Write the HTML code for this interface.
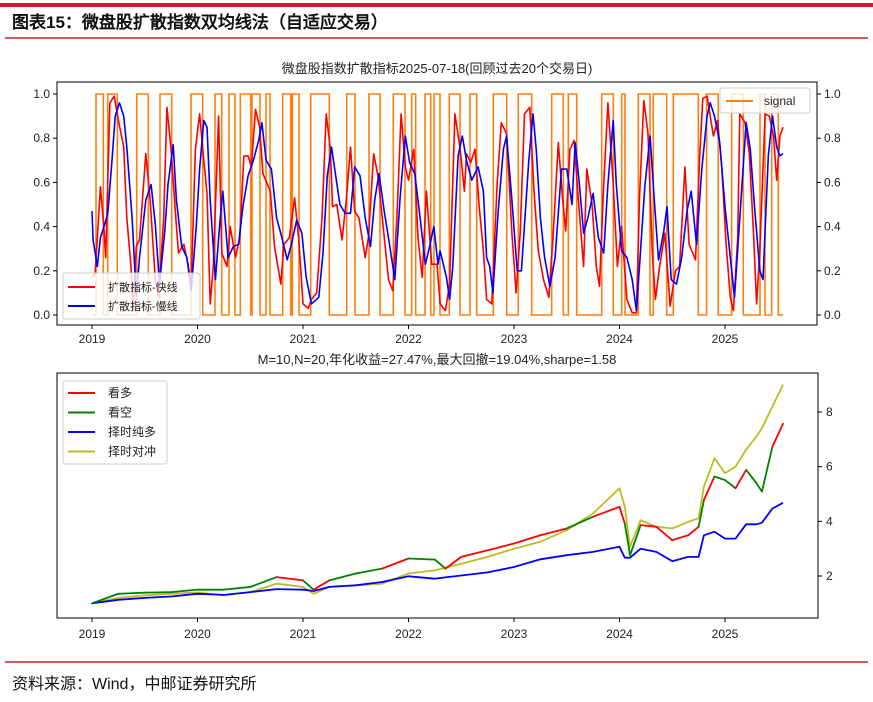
<!DOCTYPE html>
<html><head><meta charset="utf-8">
<style>
body{margin:0;background:#fff;width:873px;height:697px;overflow:hidden;font-family:"Liberation Sans","WenQuanYi Zen Hei",sans-serif;}
svg text{font-family:"Liberation Sans","WenQuanYi Zen Hei",sans-serif;}
</style></head>
<body>
<svg id="root" width="873" height="697" xmlns="http://www.w3.org/2000/svg">
<rect x="0" y="3" width="873" height="4" fill="#c8202c"/>
<text x="12" y="28" font-size="17" font-weight="bold" fill="#111">图表15：微盘股扩散指数双均线法（自适应交易）</text>
<line x1="5" y1="38" x2="868" y2="38" stroke="#c8202c" stroke-width="1.5"/>
<line x1="5" y1="662" x2="868" y2="662" stroke="#c8202c" stroke-width="1.5"/>
<text x="12" y="689" font-size="16" fill="#111">资料来源：Wind，中邮证券研究所</text>
<text x="437" y="73" font-size="13" text-anchor="middle" fill="#222">微盘股指数扩散指标2025-07-18(回顾过去20个交易日)</text>
<text x="437" y="364" font-size="13" text-anchor="middle" fill="#222">M=10,N=20,年化收益=27.47%,最大回撤=19.04%,sharpe=1.58</text>
<g id="topChart"></g>
<g id="botChart"></g>
</svg>
<script>
// ---- data ----
const yearTicks = [2019,2020,2021,2022,2023,2024,2025];
const signalTransitions = [0.038,0.107,0.149,0.240,0.424,0.534,0.645,0.755,0.938,1.049,1.166,1.229,1.299,1.355,1.406,1.504,1.517,1.592,1.649,1.687,1.808,1.883,1.899,1.962,2.073,2.249,2.414,2.493,2.626,2.730,2.856,2.967,3.030,3.068,3.156,3.210,3.242,3.299,3.387,3.488,3.583,3.646,3.804,3.931,4.041,4.168,4.357,4.467,4.515,4.594,4.831,4.941,5.021,5.052,5.178,5.289,5.320,5.447,5.510,5.747,5.826,5.936,6.063,6.173,6.332,6.379,6.443,6.505];
const signalEnd = 6.55;
const fastT = [0.00,0.03,0.08,0.11,0.13,0.17,0.21,0.25,0.30,0.33,0.37,0.39,0.42,0.45,0.51,0.55,0.60,0.63,0.68,0.71,0.75,0.79,0.82,0.87,0.91,0.94,0.98,1.02,1.06,1.09,1.12,1.15,1.20,1.23,1.28,1.31,1.36,1.40,1.44,1.48,1.51,1.55,1.59,1.62,1.69,1.73,1.79,1.82,1.87,1.92,1.96,2.00,2.05,2.08,2.13,2.18,2.22,2.26,2.28,2.32,2.37,2.41,2.45,2.49,2.53,2.59,2.62,2.67,2.71,2.76,2.81,2.85,2.89,2.93,2.97,3.00,3.05,3.09,3.13,3.17,3.22,3.27,
3.30,3.35,3.39,3.44,3.49,3.53,3.55,3.59,3.63,3.67,3.71,3.74,3.79,3.84,3.88,3.93,3.98,4.02,4.06,4.10,4.15,4.19,4.23,4.28,4.33,4.37,4.42,4.46,4.49,4.53,4.57,4.61,4.66,4.69,4.74,4.78,4.81,4.85,4.89,4.94,4.98,5.02,5.07,5.12,5.16,5.19,5.23,5.27,5.31,5.34,5.38,5.43,5.48,5.53,5.57,5.62,5.66,5.72,5.76,5.79,5.83,5.86,5.89,5.93,5.97,6.01,6.05,6.08,6.12,6.14,6.19,6.23,6.27,6.30,6.33,6.38,6.42,6.46,6.49,6.52,6.55];
const fastV = [0.17,0.19,0.58,0.41,0.26,0.96,0.99,0.88,0.76,0.44,0.22,0.02,0.31,0.34,0.73,0.53,0.16,0.08,0.44,0.94,0.75,0.47,0.28,0.32,0.23,0.14,0.75,0.91,0.70,0.55,0.05,0.22,0.90,0.28,0.22,0.40,0.26,0.35,0.72,0.72,0.67,0.93,0.85,0.64,0.56,0.31,0.14,0.32,0.35,0.53,0.34,0.05,0.03,0.07,0.10,0.44,0.91,0.75,0.49,0.50,0.34,0.52,0.76,0.47,0.44,0.26,0.35,0.73,0.63,0.40,0.16,0.11,0.44,0.91,0.67,0.61,0.75,0.35,0.17,0.56,0.23,0.23,
0.05,0.02,0.14,0.91,0.75,0.56,0.73,0.69,0.75,0.49,0.29,0.07,0.05,0.59,0.87,0.82,0.37,0.10,0.38,0.91,0.94,0.56,0.29,0.16,0.08,0.35,0.78,0.53,0.38,0.75,0.79,0.52,0.22,0.66,0.50,0.22,0.13,0.59,0.96,0.59,0.22,0.40,0.07,0.01,0.01,0.53,0.97,0.82,0.29,0.07,0.22,0.37,0.04,0.20,0.22,0.67,0.32,0.25,0.72,0.98,0.99,0.90,0.81,0.88,0.67,0.32,0.08,0.02,0.35,0.91,0.87,0.73,0.37,0.05,0.29,0.91,0.90,0.81,0.61,0.81,0.85];
const slowT = [0.00,0.01,0.05,0.08,0.12,0.15,0.19,0.22,0.26,0.30,0.33,0.38,0.42,0.45,0.51,0.56,0.60,0.64,0.69,0.72,0.77,0.80,0.85,0.90,0.94,0.99,1.02,1.06,1.09,1.12,1.17,1.21,1.24,1.29,1.34,1.39,1.43,1.48,1.53,1.58,1.61,1.65,1.70,1.75,1.80,1.85,1.89,1.94,1.99,2.03,2.08,2.15,2.19,2.23,2.27,2.31,2.35,2.40,2.45,2.49,2.54,2.59,2.64,2.68,2.72,2.77,2.82,2.87,2.92,2.97,3.01,3.06,3.11,3.16,3.20,3.24,3.28,
3.30,3.33,3.36,3.39,3.42,3.47,3.51,3.55,3.60,3.66,3.71,3.74,3.77,3.80,3.85,3.90,3.93,3.98,4.03,4.07,4.14,4.18,4.21,4.25,4.29,4.34,4.39,4.45,4.50,4.55,4.58,4.62,4.66,4.70,4.75,4.80,4.85,4.89,4.94,4.97,5.02,5.07,5.12,5.16,5.19,5.24,5.29,5.33,5.37,5.42,5.45,5.49,5.54,5.59,5.64,5.68,5.73,5.78,5.83,5.86,5.90,5.95,6.00,6.05,6.09,6.14,6.20,6.24,6.28,6.33,6.36,6.41,6.45,6.49,6.52,6.55];
const slowV = [0.47,0.34,0.22,0.35,0.41,0.46,0.70,0.90,0.96,0.90,0.76,0.44,0.08,0.26,0.52,0.59,0.41,0.14,0.38,0.59,0.77,0.52,0.31,0.26,0.11,0.41,0.66,0.88,0.85,0.52,0.16,0.41,0.56,0.26,0.31,0.32,0.49,0.63,0.70,0.79,0.87,0.70,0.66,0.44,0.35,0.25,0.32,0.43,0.37,0.17,0.05,0.08,0.28,0.63,0.76,0.63,0.50,0.46,0.46,0.67,0.63,0.44,0.31,0.52,0.64,0.47,0.32,0.16,0.53,0.81,0.69,0.64,0.44,0.23,0.31,0.40,0.23,
0.29,0.23,0.17,0.07,0.22,0.72,0.81,0.70,0.61,0.67,0.56,0.26,0.22,0.10,0.47,0.75,0.81,0.52,0.20,0.20,0.70,0.91,0.75,0.44,0.26,0.13,0.26,0.66,0.66,0.50,0.78,0.59,0.37,0.44,0.55,0.35,0.28,0.59,0.88,0.59,0.29,0.26,0.16,0.02,0.22,0.58,0.81,0.52,0.25,0.38,0.49,0.16,0.14,0.26,0.47,0.56,0.32,0.66,0.90,0.96,0.90,0.78,0.49,0.26,0.08,0.44,0.87,0.75,0.49,0.20,0.16,0.72,0.90,0.76,0.72,0.73];
const navT = [0,0.25,0.5,0.75,1.0,1.25,1.5,1.75,2.0,2.1,2.25,2.5,2.75,3.0,3.25,3.35,3.5,3.75,4.0,4.25,4.5,4.75,5.0,5.05,5.1,5.2,5.35,5.5,5.65,5.75,5.8,5.9,6.0,6.1,6.2,6.3,6.35,6.45,6.55];
const strategyNav = [1.0,1.35,1.39,1.41,1.50,1.50,1.60,1.96,1.84,1.50,1.84,2.09,2.27,2.64,2.60,2.27,2.70,2.94,3.19,3.49,3.74,4.17,4.53,3.92,2.76,3.86,3.80,3.31,3.49,3.80,4.78,5.64,5.51,5.21,5.88,5.39,5.09,6.74,7.57];
const hedgeNav = [1.0,1.20,1.29,1.35,1.40,1.29,1.41,1.72,1.60,1.35,1.60,1.66,1.72,2.09,2.21,2.30,2.45,2.70,3.00,3.25,3.68,4.29,5.21,4.53,3.07,4.04,3.80,3.74,3.98,4.11,5.27,6.31,5.76,6.00,6.62,7.11,7.40,8.21,9.0];
const longNav = [1.0,1.13,1.20,1.25,1.35,1.31,1.41,1.52,1.50,1.45,1.60,1.66,1.78,1.99,1.90,1.95,2.02,2.13,2.33,2.61,2.76,2.88,3.07,2.67,2.67,3.00,2.88,2.54,2.70,2.70,3.49,3.62,3.37,3.37,3.89,3.89,3.95,4.47,4.68];
const topYTicks = [0.0,0.2,0.4,0.6,0.8,1.0];
const botYTicks = [2,4,6,8];

// ---- scales ----
const NS='http://www.w3.org/2000/svg';
const L=57,R=817;
const xs = t => 92 + t*105.5;
const yTop = v => 315 - v*221;
const yBot = v => 576 - (v-2)*27.33;
function el(tag,attrs,parent){const e=document.createElementNS(NS,tag);for(const k in attrs)e.setAttribute(k,attrs[k]);parent.appendChild(e);return e;}
function pts(T,V,ys){const n=Math.min(T.length,V.length);const out=[];for(let i=0;i<n;i++)out.push(xs(T[i]).toFixed(1)+','+ys(V[i]).toFixed(1));return out.join(' ');}
function signalAt(t){let s=0;for(const x of signalTransitions){if(x<=t)s=1-s;else break;}return s;}

// ---- top chart ----
const topG=document.getElementById('topChart');
let sState=0;
const sigPts=[[0,0]];
for(const x of signalTransitions){sigPts.push([x,sState]);sState=1-sState;sigPts.push([x,sState]);}
sigPts.push([signalEnd,sState]);
let sig=el('polyline',{points:sigPts.map(p=>xs(p[0]).toFixed(1)+','+yTop(p[1]).toFixed(1)).join(' '),fill:'none',stroke:'#ff7f0e','stroke-width':1.6},topG);


let fl=el('polyline',{points:pts(fastT,fastV,yTop),fill:'none',stroke:'#ff0000','stroke-width':1.6,'stroke-linejoin':'round'},topG);


let sl=el('polyline',{points:pts(slowT,slowV,yTop),fill:'none',stroke:'#0000ff','stroke-width':1.6,'stroke-linejoin':'round'},topG);


let tf=el('rect',{x:L,y:82,width:R-L,height:243,fill:'none',stroke:'#000','stroke-width':1},topG);


topYTicks.forEach(v=>{
  const y=yTop(v);
  el('line',{x1:L-4,y1:y,x2:L,y2:y,stroke:'#000'},topG);
  el('line',{x1:R,y1:y,x2:R+4,y2:y,stroke:'#000'},topG);
  let a=el('text',{x:L-7,y:y+4,'font-size':12,'text-anchor':'end',fill:'#222'},topG);a.textContent=v.toFixed(1);
  
  
  let b=el('text',{x:R+7,y:y+4,'font-size':12,fill:'#222'},topG);b.textContent=v.toFixed(1);
  
  
});
yearTicks.forEach(yr=>{
  const x=xs(yr-2019);
  el('line',{x1:x,y1:325,x2:x,y2:329,stroke:'#000'},topG);
  let t=el('text',{x:x,y:343,'font-size':12,'text-anchor':'middle',fill:'#222'},topG);t.textContent=yr;
  
  
});
let lg=el('g',{},topG);


el('rect',{x:63,y:273,width:137,height:46,fill:'#fff','fill-opacity':0.8,stroke:'#ccc',rx:2},lg);
el('line',{x1:68,y1:287,x2:95,y2:287,stroke:'#ff0000','stroke-width':2},lg);
el('line',{x1:68,y1:306,x2:95,y2:306,stroke:'#0000ff','stroke-width':2},lg);
let l1=el('text',{x:108,y:291,'font-size':11,fill:'#222'},lg);l1.textContent='扩散指标-快线';


let l2=el('text',{x:108,y:310,'font-size':11,fill:'#222'},lg);l2.textContent='扩散指标-慢线';


let lg2=el('g',{},topG);


el('rect',{x:720,y:88,width:90,height:25,fill:'#fff','fill-opacity':0.8,stroke:'#ccc',rx:2},lg2);
el('line',{x1:726,y1:101,x2:753,y2:101,stroke:'#ff7f0e','stroke-width':2},lg2);
let l3=el('text',{x:764,y:105,'font-size':12,fill:'#222'},lg2);l3.textContent='signal';



// ---- bottom chart ----
const botG=document.getElementById('botChart');
let hl=el('polyline',{points:pts(navT,hedgeNav,yBot),fill:'none',stroke:'#bcbd22','stroke-width':1.8,'stroke-linejoin':'round'},botG);


let ll=el('polyline',{points:pts(navT,longNav,yBot),fill:'none',stroke:'#0000ff','stroke-width':1.8,'stroke-linejoin':'round'},botG);


for(let i=0;i<Math.min(navT.length,strategyNav.length)-1;i++){
  const mid=(navT[i]+navT[i+1])/2;
  const c=signalAt(mid)?'#ff0000':'#008000';
  let seg=el('line',{x1:xs(navT[i]),y1:yBot(strategyNav[i]),x2:xs(navT[i+1]),y2:yBot(strategyNav[i+1]),stroke:c,'stroke-width':1.8,'stroke-linecap':'round'},botG);
  
  
}
let bf=el('rect',{x:L,y:373,width:R-L+1,height:245,fill:'none',stroke:'#000','stroke-width':1},botG);


botYTicks.forEach(v=>{
  const y=yBot(v);
  el('line',{x1:R+1,y1:y,x2:R+5,y2:y,stroke:'#000'},botG);
  let b=el('text',{x:R+9,y:y+4,'font-size':12,fill:'#222'},botG);b.textContent=v;
  
  
});
yearTicks.forEach(yr=>{
  const x=xs(yr-2019);
  el('line',{x1:x,y1:618,x2:x,y2:622,stroke:'#000'},botG);
  let t=el('text',{x:x,y:638,'font-size':12,'text-anchor':'middle',fill:'#222'},botG);t.textContent=yr;
  
  
});
let lg3=el('g',{},botG);


el('rect',{x:63,y:381,width:104,height:83,fill:'#fff','fill-opacity':0.8,stroke:'#ccc',rx:2},lg3);
const legNames=['看多','看空','择时纯多','择时对冲'];
const legColors=['#ff0000','#008000','#0000ff','#bcbd22'];
legNames.forEach((n,i)=>{
  const y=393+i*19.5;
  el('line',{x1:68,y1:y,x2:95,y2:y,stroke:legColors[i],'stroke-width':2},lg3);
  let t=el('text',{x:108,y:y+4,'font-size':12,fill:'#222'},lg3);t.textContent=n;
  
  
});
</script>
</body></html>
